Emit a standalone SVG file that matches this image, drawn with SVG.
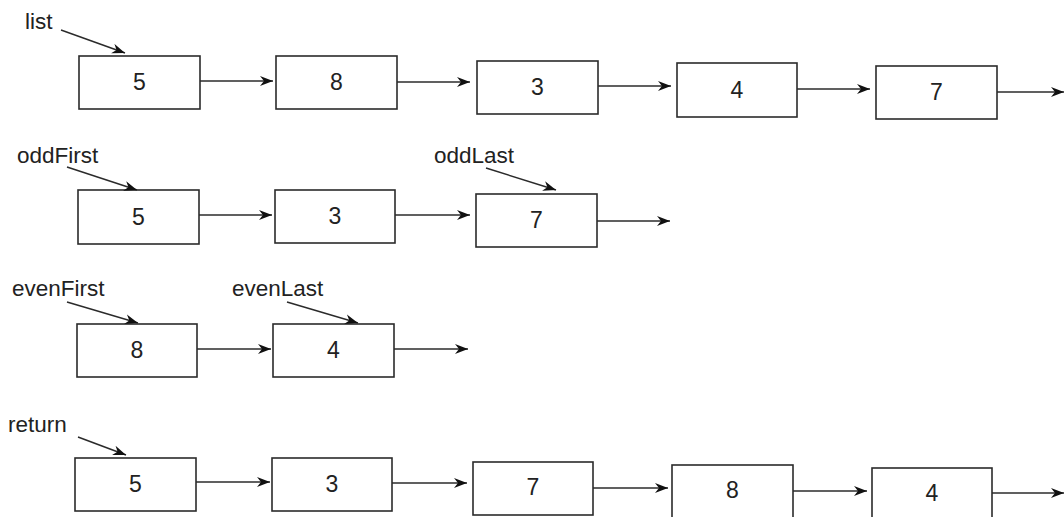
<svg xmlns="http://www.w3.org/2000/svg" width="1064" height="517" viewBox="0 0 1064 517">
  <defs>
    <marker id="arrow" viewBox="0 0 13 11" refX="13" refY="5.5" markerWidth="13" markerHeight="11" markerUnits="userSpaceOnUse" orient="auto">
      <path d="M0,0.5 L13,5.5 L0,10.5 L4,5.5 Z" fill="#111111"/>
    </marker>
  </defs>
  <style>
    .box { fill: #ffffff; stroke: #2b2b2b; stroke-width: 1.6; }
    .val { font-family: "Liberation Sans", Arial, sans-serif; font-size: 23px; fill: #222222; text-anchor: middle; }
    .lbl { font-family: "Liberation Sans", Arial, sans-serif; font-size: 22.5px; fill: #222222; }
    .link { stroke: #2b2b2b; stroke-width: 1.5; fill: none; marker-end: url(#arrow); }
  </style>
  <rect width="1064" height="517" fill="#ffffff"/>

  <!-- list -->
  <g id="row-list">
    <text class="lbl" x="25" y="29">list</text>
    <g id="list-n1"><rect class="box" x="79" y="56" width="121" height="53"/><text class="val" x="139.5" y="90">5</text></g>
    <g id="list-n2"><rect class="box" x="276" y="56" width="121" height="53"/><text class="val" x="336.5" y="90">8</text></g>
    <g id="list-n3"><rect class="box" x="477" y="61" width="121" height="53"/><text class="val" x="537.5" y="95">3</text></g>
    <g id="list-n4"><rect class="box" x="677" y="63" width="120" height="54"/><text class="val" x="737" y="97.5">4</text></g>
    <g id="list-n5"><rect class="box" x="876" y="66" width="121" height="53"/><text class="val" x="936.5" y="100">7</text></g>
  </g>

  <!-- oddFirst / oddLast -->
  <g id="row-odd">
    <text class="lbl" x="17" y="163">oddFirst</text>
    <text class="lbl" x="434" y="163">oddLast</text>
    <g id="odd-n1"><rect class="box" x="78" y="190" width="121" height="54"/><text class="val" x="138.5" y="224.5">5</text></g>
    <g id="odd-n2"><rect class="box" x="275" y="190" width="120" height="53"/><text class="val" x="335" y="224">3</text></g>
    <g id="odd-n3"><rect class="box" x="476" y="194" width="121" height="53"/><text class="val" x="536.5" y="228">7</text></g>
  </g>

  <!-- evenFirst / evenLast -->
  <g id="row-even">
    <text class="lbl" x="12" y="296">evenFirst</text>
    <text class="lbl" x="232" y="296">evenLast</text>
    <g id="even-n1"><rect class="box" x="77" y="324" width="120" height="53"/><text class="val" x="137" y="358">8</text></g>
    <g id="even-n2"><rect class="box" x="273" y="324" width="121" height="53"/><text class="val" x="333.5" y="358">4</text></g>
  </g>

  <!-- return -->
  <g id="row-return">
    <text class="lbl" x="8" y="432">return</text>
    <g id="ret-n1"><rect class="box" x="75" y="458" width="121" height="53"/><text class="val" x="135.5" y="492">5</text></g>
    <g id="ret-n2"><rect class="box" x="272" y="458" width="120" height="53"/><text class="val" x="332" y="492">3</text></g>
    <g id="ret-n3"><rect class="box" x="473" y="462" width="120" height="53"/><text class="val" x="533" y="495">7</text></g>
    <g id="ret-n4"><rect class="box" x="672" y="465" width="121" height="53"/><text class="val" x="732.5" y="498">8</text></g>
    <g id="ret-n5"><rect class="box" x="872" y="468" width="120" height="53"/><text class="val" x="932" y="501">4</text></g>
  </g>

  <g id="connectors">
    <!-- list -->
    <line class="link" x1="61" y1="30" x2="125" y2="53"/>
    <line class="link" x1="200" y1="81" x2="273" y2="81"/>
    <line class="link" x1="397" y1="82" x2="470" y2="82"/>
    <line class="link" x1="598" y1="86" x2="671" y2="86"/>
    <line class="link" x1="797" y1="89" x2="870" y2="89"/>
    <line class="link" x1="997" y1="92" x2="1064" y2="92"/>
    <!-- odd -->
    <line class="link" x1="67" y1="167" x2="137" y2="190"/>
    <line class="link" x1="486" y1="168" x2="556" y2="190"/>
    <line class="link" x1="199" y1="215" x2="272" y2="215"/>
    <line class="link" x1="395" y1="215" x2="470" y2="215"/>
    <line class="link" x1="597" y1="221" x2="670" y2="221"/>
    <!-- even -->
    <line class="link" x1="67" y1="302" x2="138" y2="323"/>
    <line class="link" x1="287" y1="302" x2="358" y2="323"/>
    <line class="link" x1="197" y1="349" x2="271" y2="349"/>
    <line class="link" x1="394" y1="349" x2="468" y2="349"/>
    <!-- return -->
    <line class="link" x1="78" y1="437" x2="126" y2="455"/>
    <line class="link" x1="196" y1="482" x2="270" y2="482"/>
    <line class="link" x1="392" y1="483" x2="467" y2="483"/>
    <line class="link" x1="593" y1="488" x2="668" y2="488"/>
    <line class="link" x1="793" y1="491" x2="867" y2="491"/>
    <line class="link" x1="992" y1="493" x2="1064" y2="493"/>
  </g>
</svg>
